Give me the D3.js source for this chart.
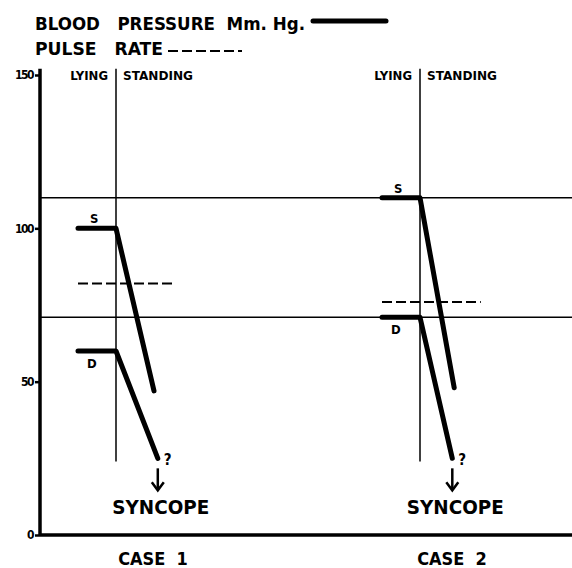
<!DOCTYPE html>
<html>
<head>
<meta charset="utf-8">
<script src="https://cdn.jsdelivr.net/npm/d3@7.9.0/dist/d3.min.js"></script>
<style>
  html, body { margin: 0; background: #fff; overflow: hidden; }
  svg { display: block; }
  svg text { font-family: "DejaVu Sans Condensed", "DejaVu Sans", sans-serif; font-weight: bold; fill: #000; }
</style>
</head>
<body>
<svg width="572" height="568"></svg>
<script>
// data
const yTicks = [0, 50, 100, 150];
const cases = ['CASE 1', 'CASE 2'];
// x positions are in "phase units": lying start, posture change, standing end
const lyingStart = [1, 9];
const postureChange = [2, 10];
const systolicLying = [100, 110];
const systolicStandEnd = [47, 48];
const systolicStandX = [3, 10.9];
const diastolicLying = [60, 71];
const diastolicStandEnd = [25, 25];
const diastolicStandX = [3.1, 10.85];
const pulseRate = [82, 76];
const pulseEndX = [3.5, 11.6];
const refLines = [110, 71];

const svg = d3.select('svg');
const x = d3.scaleLinear().domain([0, 14]).range([40, 572]);
const y = d3.scaleLinear().domain([0, 150]).range([535, 75]);

// legend
svg.append('text').attr('x', 35).attr('y', 30).attr('font-size', 18)
  .attr('textLength', 270).attr('lengthAdjust', 'spacingAndGlyphs')
  .attr('xml:space', 'preserve').text('BLOOD   PRESSURE  Mm. Hg.');
svg.append('line').attr('x1', 313).attr('x2', 386).attr('y1', 21).attr('y2', 21)
  .attr('stroke', '#000').attr('stroke-width', 5).attr('stroke-linecap', 'round');
svg.append('text').attr('x', 35).attr('y', 55).attr('font-size', 18)
  .attr('textLength', 128).attr('lengthAdjust', 'spacingAndGlyphs')
  .attr('xml:space', 'preserve').text('PULSE   RATE');
svg.append('line').attr('x1', 168).attr('x2', 242).attr('y1', 51).attr('y2', 51)
  .attr('stroke', '#000').attr('stroke-width', 2).attr('stroke-dasharray', '10,4');

// y axis
const yAxis = d3.axisLeft(y).tickValues(yTicks).tickSize(5).tickPadding(2);
const ga = svg.append('g').attr('transform', `translate(${x(0)},0)`).call(yAxis);
ga.select('.domain').remove();
ga.selectAll('line').attr('stroke-width', 2.5);
ga.selectAll('text').attr('font-size', 12).attr('letter-spacing', -1.5)
  .style('font-family', '"DejaVu Sans Condensed", sans-serif').style('font-weight', 'bold');
svg.append('line').attr('x1', x(0)).attr('x2', x(0)).attr('y1', y(152)).attr('y2', y(0))
  .attr('stroke', '#000').attr('stroke-width', 3.5);
svg.append('line').attr('x1', x(0)).attr('x2', 572).attr('y1', y(0)).attr('y2', y(0))
  .attr('stroke', '#000').attr('stroke-width', 3.5);

// reference horizontal lines
svg.selectAll('.ref').data(refLines).join('line')
  .attr('x1', x(0)).attr('x2', 572).attr('y1', d => y(d)).attr('y2', d => y(d))
  .attr('stroke', '#000').attr('stroke-width', 1.5);

cases.forEach((name, i) => {
  const cx = x(postureChange[i]);
  // posture divider
  svg.append('line').attr('x1', cx).attr('x2', cx).attr('y1', y(152)).attr('y2', y(24))
    .attr('stroke', '#000').attr('stroke-width', 1.5);
  svg.append('text').attr('x', cx - 8).attr('y', y(150) + 5).attr('font-size', 13)
    .attr('text-anchor', 'end').text('LYING');
  svg.append('text').attr('x', cx + 7).attr('y', y(150) + 5).attr('font-size', 13)
    .attr('textLength', 70).attr('lengthAdjust', 'spacingAndGlyphs').text('STANDING');

  // pulse rate
  svg.append('line').attr('x1', x(lyingStart[i])).attr('x2', x(pulseEndX[i]))
    .attr('y1', y(pulseRate[i])).attr('y2', y(pulseRate[i]))
    .attr('stroke', '#000').attr('stroke-width', 2).attr('stroke-dasharray', '10,4');

  // blood pressure
  const line = d3.line().x(d => x(d[0])).y(d => y(d[1]));
  const sys = [[lyingStart[i], systolicLying[i]], [postureChange[i], systolicLying[i]], [systolicStandX[i], systolicStandEnd[i]]];
  const dia = [[lyingStart[i], diastolicLying[i]], [postureChange[i], diastolicLying[i]], [diastolicStandX[i], diastolicStandEnd[i]]];
  [sys, dia].forEach(pts => {
    svg.append('path').attr('d', line(pts)).attr('fill', 'none').attr('stroke', '#000')
      .attr('stroke-width', 5).attr('stroke-linecap', 'round').attr('stroke-linejoin', 'round');
  });
  svg.append('text').attr('x', x(lyingStart[i]) + 12).attr('y', y(systolicLying[i]) - 5)
    .attr('font-size', 13).text('S');
  svg.append('text').attr('x', x(lyingStart[i]) + 9).attr('y', y(diastolicLying[i]) + 17)
    .attr('font-size', 13).text('D');

  // syncope
  const ex = x(diastolicStandX[i]), ey = y(diastolicStandEnd[i]);
  svg.append('text').attr('x', ex + 6).attr('y', ey + 7).attr('font-size', 15).text('?');
  svg.append('line').attr('x1', ex).attr('x2', ex).attr('y1', ey + 10).attr('y2', ey + 31)
    .attr('stroke', '#000').attr('stroke-width', 2.5);
  svg.append('path').attr('d', `M${ex - 6},${ey + 24} L${ex},${ey + 32} L${ex + 6},${ey + 24}`)
    .attr('fill', 'none').attr('stroke', '#000').attr('stroke-width', 2.5);
  svg.append('text').attr('x', ex + 3).attr('y', ey + 56).attr('font-size', 19)
    .attr('text-anchor', 'middle').attr('textLength', 97).attr('lengthAdjust', 'spacingAndGlyphs')
    .text('SYNCOPE');

  svg.append('text').attr('x', [153, 452][i]).attr('y', 565).attr('font-size', 18)
    .attr('text-anchor', 'middle').attr('xml:space', 'preserve').text(name.replace(' ', '  '));
});
</script>
</body>
</html>
